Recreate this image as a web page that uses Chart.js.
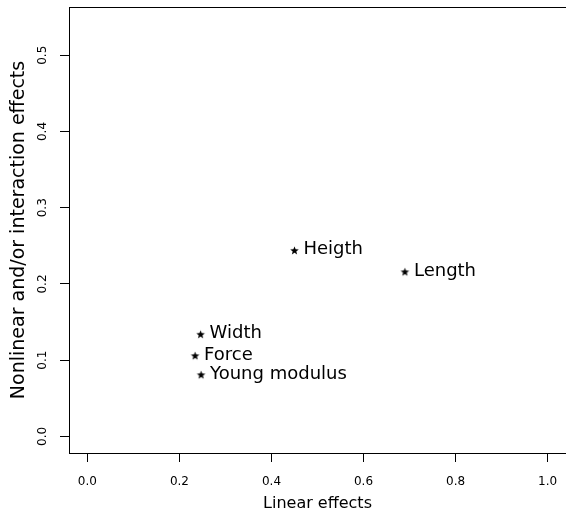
<!DOCTYPE html>
<html>
<head>
<meta charset="utf-8">
<script src="https://cdn.jsdelivr.net/npm/chart.js@4"></script>
<style>
html,body{margin:0;padding:0;background:#fff;}
#c{display:block;}
</style>
</head>
<body>
<canvas id="c" width="566" height="512"></canvas>
<script>
// ---- data ----
const labels = ["Heigth", "Length", "Width", "Force", "Young modulus"];
const linearEffects = [0.450, 0.690, 0.246, 0.234, 0.247];
const nonlinearEffects = [0.244, 0.216, 0.134, 0.106, 0.081];
const xTickValues = [0.0, 0.2, 0.4, 0.6, 0.8, 1.0];
const yTickValues = [0.0, 0.1, 0.2, 0.3, 0.4, 0.5];
const xTitle = "Linear effects";
const yTitle = "Nonlinear and/or interaction effects";

// star marker
function makeStar() {
  const s = 11;
  const cv = document.createElement('canvas');
  cv.width = s; cv.height = s;
  const g = cv.getContext('2d');
  const cx = s / 2, cy = s / 2 + 0.4, R = 4.5, r = 1.9;
  g.beginPath();
  for (let i = 0; i < 10; i++) {
    const rad = (i % 2 === 0) ? R : r;
    const a = -Math.PI / 2 + i * Math.PI / 5;
    const px = cx + rad * Math.cos(a), py = cy + rad * Math.sin(a);
    if (i === 0) g.moveTo(px, py); else g.lineTo(px, py);
  }
  g.closePath();
  g.fillStyle = '#000';
  g.fill();
  return cv;
}
const star = makeStar();

const FONT = "'DejaVu Sans', sans-serif";

const boxPlugin = {
  id: 'boxPlugin',
  afterDraw(chart) {
    const {ctx, chartArea, scales} = chart;
    ctx.save();
    // top border
    ctx.strokeStyle = '#000';
    ctx.lineWidth = 1;
    ctx.beginPath();
    ctx.moveTo(chartArea.left, Math.round(chartArea.top) + 0.5);
    ctx.lineTo(chartArea.right + 1, Math.round(chartArea.top) + 0.5);
    ctx.stroke();
    // y tick labels (rotated, as in R)
    ctx.fillStyle = '#000';
    ctx.font = "12px " + FONT;
    ctx.textAlign = 'center';
    ctx.textBaseline = 'middle';
    yTickValues.forEach(v => {
      const py = scales.y.getPixelForValue(v);
      ctx.save();
      ctx.translate(43, py);
      ctx.rotate(-Math.PI / 2);
      ctx.fillText(v.toFixed(1), 0, 0);
      ctx.restore();
    });
    // point labels
    const meta = chart.getDatasetMeta(0);
    ctx.font = "18px " + FONT;
    ctx.textAlign = 'left';
    ctx.textBaseline = 'alphabetic';
    meta.data.forEach((el, i) => {
      ctx.fillText(labels[i], el.x + 9, el.y + 4);
    });
    ctx.restore();
  }
};

new Chart(document.getElementById('c'), {
  type: 'scatter',
  data: {
    datasets: [{
      data: linearEffects.map((x, i) => ({x: x, y: nonlinearEffects[i]})),
      pointStyle: star,
      pointRadius: 5,
      pointHoverRadius: 5,
      backgroundColor: '#000',
      borderColor: '#000'
    }]
  },
  options: {
    responsive: false,
    animation: false,
    devicePixelRatio: 1,
    layout: {autoPadding: false, padding: {top: 7, left: 0, right: 0, bottom: 0}},
    plugins: {legend: {display: false}, tooltip: {enabled: false}},
    scales: {
      x: {
        type: 'linear',
        min: -0.04,
        max: 1.04,
        afterBuildTicks(scale) { scale.ticks = xTickValues.map(v => ({value: v})); },
        afterFit(scale) { scale.height = 59; scale.paddingLeft = 0; scale.paddingRight = 0; },
        grid: {drawOnChartArea: false, drawTicks: true, tickLength: 9, color: '#000', lineWidth: 1},
        border: {display: true, color: '#000', width: 1},
        ticks: {
          color: '#000',
          font: {family: FONT, size: 12},
          padding: 13,
          maxRotation: 0,
          autoSkip: false,
          callback: v => Number(v).toFixed(1)
        },
        title: {
          display: true,
          text: xTitle,
          color: '#000',
          font: {family: FONT, size: 16},
          padding: {top: 0, bottom: -1}
        }
      },
      y: {
        type: 'linear',
        min: -0.0217,
        max: 0.5633,
        afterBuildTicks(scale) { scale.ticks = yTickValues.map(v => ({value: v})); },
        afterFit(scale) { scale.width = 69; scale.paddingTop = 0; scale.paddingBottom = 0; },
        grid: {drawOnChartArea: false, drawTicks: true, tickLength: 9, color: '#000', lineWidth: 1},
        border: {display: true, color: '#000', width: 1},
        ticks: {display: false},
        title: {
          display: true,
          text: yTitle,
          color: '#000',
          font: {family: FONT, size: 19},
          padding: {top: 7.5, bottom: 0}
        }
      }
    }
  },
  plugins: [boxPlugin]
});
</script>
</body>
</html>
